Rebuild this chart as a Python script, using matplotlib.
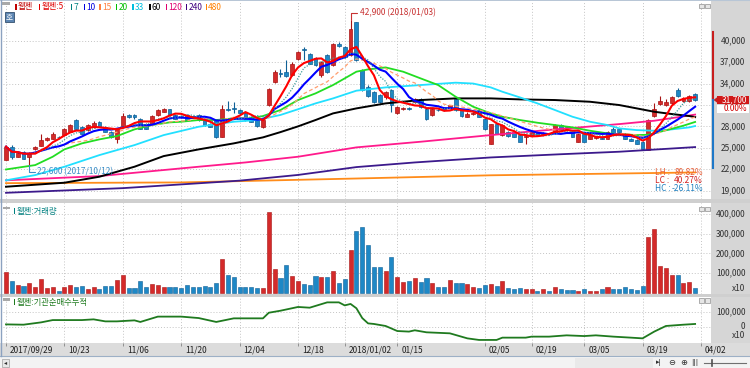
import numpy as np
import pandas as pd
import matplotlib
matplotlib.use("Agg")
import matplotlib.pyplot as plt
from matplotlib.transforms import blended_transform_factory as blend, offset_copy
from matplotlib.patches import Rectangle, Polygon, Circle

plt.rcParams['font.family'] = ['Noto Sans CJK KR', 'DejaVu Sans']

# ======================= DATA =======================
stock_name = '웹젠'
tick_idx = [0, 10, 20, 30, 40, 50, 58, 67, 82, 90, 99, 109, 119]
tick_labels = ['2017/09/29', '10/23', '11/06', '11/20', '12/04', '12/18',
               '2018/01/02', '01/15', '02/05', '02/19', '03/05', '03/19', '04/02']

opens = [23300, 25150, 23750, 24450, 23750, 24800, 25250, 26100, 26300, 26500,
         26800, 27250, 28900, 27950, 27500, 27850, 28650, 27950, 27250, 26300,
         27950, 29550, 29550, 29100, 28400, 28400, 29600, 30050, 30400, 29600,
         29400, 29600, 29400, 29600, 29100, 28400, 28900, 26550, 30500, 30500,
         30300, 29850, 29350, 28900, 27850, 30950, 34250, 35400, 35650, 35200,
         37400, 38900, 38200, 37550, 35200, 38000, 36600, 39600, 39150, 38000,
         42550, 35900, 33550, 32850, 32400, 32050, 33100, 29850, 30450, 30550,
         31450, 31900, 30500, 29600, 30350, 30500, 30750, 31800, 30300, 29350,
         29750, 30300, 29100, 25600, 28400, 26800, 27250, 27250, 26800, 26550,
         26800, 27250, 26950, 27000, 27100, 28200, 28000, 27400, 25850, 27000,
         26300, 26350, 26400, 26300, 27700, 27700, 27000, 26300, 26100, 25850,
         24750, 29450, 31100, 31050, 31300, 33150, 31600, 31500, 32600]
highs = [25350, 25400, 24400, 24550, 24400, 25300, 26950, 26500, 27250, 26650,
         27800, 28350, 29100, 28100, 28300, 28700, 28800, 28050, 27350, 27800,
         29900, 29800, 29700, 29200, 28500, 29550, 30450, 30600, 30500, 29700,
         29550, 29700, 29500, 29700, 29200, 28500, 29000, 31000, 31600, 31450,
         30450, 29950, 29450, 29000, 29000, 33400, 35900, 36100, 37300, 37000,
         38600, 39150, 38300, 37700, 37200, 38150, 39700, 39800, 39300, 42900,
         42650, 36100, 33800, 33000, 32550, 33000, 33300, 30900, 30750, 30700,
         32000, 32000, 30600, 30650, 30450, 30700, 31050, 31950, 30400, 29950,
         30000, 30450, 29200, 28400, 28500, 28300, 27350, 27350, 26900, 26800,
         27350, 27350, 27150, 27100, 28350, 28350, 28100, 27500, 27100, 27100,
         26900, 26550, 26500, 27350, 27850, 27800, 27100, 26400, 26200, 25950,
         29100, 31300, 32250, 31850, 32300, 33400, 32100, 32400, 32700]
lows = [23250, 23500, 23650, 23400, 22600, 24700, 25200, 26000, 26200, 26300,
        26700, 27200, 27600, 26900, 27400, 27800, 27850, 27150, 26400, 25700,
        27900, 29200, 29100, 27600, 27600, 28300, 29500, 29950, 29500, 29000,
        29150, 28800, 29150, 28800, 28100, 27850, 26400, 26450, 30100, 29850,
        29700, 28800, 28550, 27950, 27750, 30800, 34100, 34950, 34950, 35100,
        37300, 37300, 36700, 36450, 34950, 35500, 36450, 39100, 37600, 37900,
        37100, 32950, 32100, 31300, 31300, 31900, 30050, 29700, 30300, 30300,
        31300, 30600, 28950, 29450, 30100, 30200, 30600, 30200, 29350, 29250,
        29600, 29250, 27550, 25500, 26900, 26700, 26550, 26450, 25750, 25600,
        26700, 26700, 26850, 26800, 27000, 27400, 27800, 26450, 25750, 25750,
        26200, 26250, 26200, 26200, 27000, 27150, 26200, 25900, 25500, 24800,
        24650, 29300, 30950, 30850, 31200, 32100, 31400, 31400, 31600]
closes = [25150, 23750, 24300, 23500, 24200, 25150, 26100, 26400, 27000, 26450,
          27700, 28200, 27700, 27000, 28200, 28500, 27950, 27250, 26550, 27700,
          29450, 29350, 29250, 27700, 27700, 29450, 30300, 30500, 29600, 29100,
          29300, 28900, 29300, 28900, 28200, 27950, 26450, 30500, 30300, 30450,
          29850, 28900, 28650, 28050, 28900, 33200, 35650, 35300, 35050, 36800,
          38450, 38700, 36800, 36600, 37050, 35650, 39600, 39250, 37750, 41700,
          37300, 33100, 32250, 31450, 31450, 32850, 31000, 30750, 30550, 30450,
          31900, 30750, 29100, 30500, 30250, 30300, 30950, 30300, 29450, 29800,
          29850, 29350, 27700, 28300, 27000, 28200, 26650, 26550, 25850, 26700,
          27250, 26800, 27050, 26900, 28200, 27500, 27900, 26550, 27000, 25850,
          26800, 26450, 26300, 27250, 27100, 27250, 26300, 26000, 25600, 24900,
          28900, 30500, 31500, 31400, 32150, 32250, 31950, 32300, 31700]
volumes = [103000, 60000, 38000, 35000, 47000, 30000, 67000, 25000, 30000, 8000,
           26000, 37000, 26000, 33000, 16000, 26000, 16000, 33000, 33000, 62000,
           88000, 23000, 23000, 57000, 30000, 44000, 40000, 30000, 26000, 26000,
           21000, 37000, 26000, 26000, 33000, 26000, 47000, 172000, 91000, 78000,
           26000, 26000, 26000, 21000, 21000, 413000, 119000, 76000, 139000, 85000,
           59000, 44000, 37000, 85000, 81000, 81000, 108000, 47000, 69000, 218000,
           312000, 334000, 244000, 132000, 128000, 112000, 184000, 81000, 56000, 61000,
           74000, 56000, 74000, 47000, 26000, 30000, 64000, 47000, 47000, 42000,
           26000, 21000, 37000, 44000, 33000, 57000, 23000, 20000, 23000, 16000,
           16000, 10000, 16000, 8000, 26000, 20000, 13000, 13000, 10000, 16000,
           6000, 8000, 20000, 26000, 20000, 20000, 30000, 20000, 13000, 35000,
           283000, 327000, 136000, 124000, 90000, 88000, 50000, 55000, 21000]

# long moving averages (index, price)
ma20_idx = [0, 5, 8, 10, 13, 16, 19, 22, 25, 28, 30, 33, 36, 39, 42, 44, 47, 50, 53, 56,
            59, 60, 62, 65, 68, 71, 74, 77, 80, 83, 85, 88, 91, 94, 97, 100, 103, 105,
            108, 110, 112, 114, 116, 118]
ma20_val = [21970, 22580, 23750, 24780, 25620, 26180, 26640, 27580, 28190, 28560, 28650,
            28890, 28890, 29120, 29120, 29450, 30290, 31690, 32620, 33790, 35190, 35660,
            35980, 36260, 35660, 34720, 33790, 32150, 30750, 29820, 29350, 28890, 28510,
            28190, 27860, 27390, 27020, 26920, 26780, 26830, 27240, 27660, 28100, 28620]
ma33_idx = [0, 5, 10, 16, 22, 27, 33, 39, 43, 47, 50, 53, 56, 60, 65, 71, 77, 80, 83, 85,
            88, 91, 94, 97, 100, 103, 105, 108, 111, 114, 117, 118]
ma33_val = [20450, 21180, 22350, 23980, 25380, 26780, 27950, 28650, 28890, 29600, 30400,
            31220, 31920, 33000, 33460, 33790, 34120, 34000, 33460, 32850, 32060, 31220,
            30290, 29350, 28650, 28190, 27720, 27480, 27390, 27580, 27860, 28050]
ma60_idx = [0, 10, 16, 22, 27, 33, 39, 44, 47, 50, 53, 56, 60, 65, 71, 77, 83, 88, 94,
            100, 105, 108, 111, 114, 117, 118]
ma60_val = [19550, 20110, 20950, 22350, 23840, 24780, 25620, 26460, 27200, 28000, 28890,
            29820, 30520, 31220, 31690, 31920, 31920, 31780, 31690, 31450, 30990, 30520,
            30050, 29730, 29450, 29300]
ma120_idx = [0, 16, 33, 41, 50, 60, 71, 83, 94, 105, 111, 118]
ma120_val = [20450, 21040, 22350, 22950, 23750, 25060, 25850, 26780, 27580, 28320, 28790, 29650]
ma240_idx = [0, 20, 40, 50, 60, 70, 83, 95, 105, 118]
ma240_val = [18700, 19350, 20400, 21200, 22300, 22950, 23650, 24100, 24450, 25100]
ma480_idx = [0, 30, 60, 83, 105, 118]
ma480_val = [20050, 20150, 20700, 21150, 21400, 21550]

# institution net-buying cumulative
inst_idx = [0, 3, 6, 8, 13, 15, 17, 19, 22, 23, 26, 30, 33, 36, 39, 44, 45, 47, 50, 52,
            55, 57, 58, 59, 60, 61, 62, 63, 65, 67, 69, 70, 72, 76, 79, 81, 84, 85, 89, 90,
            93, 96, 99, 101, 104, 107, 109, 111, 113, 116, 118]
inst_val = [16000, 14000, 30000, 46000, 46000, 51000, 37000, 37000, 44000, 33000,
            70000, 70000, 60000, 33000, 58000, 58000, 97000, 111000, 137000, 132000,
            169000, 169000, 148000, 158000, 128000, 60000, 23000, 19000, 5000, -30000,
            -34000, -25000, -39000, -46000, -81000, -92000, -92000, -76000, -76000, -69000,
            -69000, -60000, -65000, -60000, -69000, -76000, -81000, -34000, 5000, 14000,
            19000]

high_date = '2018/01/03'
low_date = '2017/10/12'
price_ticks = [40000, 37000, 34000, 28000, 25000, 22000, 19000]
price_grid = [19000, 22000, 25000, 28000, 31000, 34000, 37000, 40000]
volume_ticks = [400000, 300000, 200000, 100000]
inst_ticks = [100000, 0]

# ======================= STYLE / LAYOUT =======================
W, H = 750, 368
UP_FACE, UP_EDGE = '#D42A2A', '#A81414'
DN_FACE, DN_EDGE = '#1E88C6', '#0F5F95'
GRID = '#C4C4C4'
TXT = '#303030'
FS = 6

fig = plt.figure(figsize=(7.5, 3.68), dpi=100, facecolor='white')


def px_axes(x0, y0, x1, y1, z):
    a = fig.add_axes([x0 / W, 1 - y1 / H, (x1 - x0) / W, (y1 - y0) / H])
    a.set_zorder(z)
    return a


bg = px_axes(0, 0, W, H, 0)
bg.set_xlim(0, W); bg.set_ylim(H, 0); bg.axis('off')
ax = px_axes(3, 1, 711, 198.5, 2)
axv = px_axes(3, 202.5, 711, 293.5, 2)
axi = px_axes(3, 296.5, 711, 343, 2)
fg = px_axes(0, 0, W, H, 5)
fg.set_xlim(0, W); fg.set_ylim(H, 0); fg.axis('off')

n = len(closes)
x = np.arange(n)
o = np.array(opens, float); c = np.array(closes, float)
hi_arr = np.array(highs, float); lo_arr = np.array(lows, float)
up = c >= o

XL = ((3 - 6) / 5.84, (711 - 6) / 5.84)
for a, yl in ((ax, (17900, 45560)), (axv, (-5100, 460000)), (axi, (-113200, 209700))):
    a.set_xlim(*XL)
    a.set_ylim(*yl)
    a.set_facecolor('white')
    for s in a.spines.values():
        s.set_visible(False)
    a.set_xticks([]); a.set_yticks([])
    a.vlines(tick_idx, yl[0], yl[1], colors=GRID, linestyles=(0, (1, 2)), lw=0.7, zorder=0)

ax.hlines(price_grid, XL[0], XL[1], colors=GRID, linestyles=(0, (1, 2)), lw=0.7, zorder=0)
axv.hlines(volume_ticks, XL[0], XL[1], colors=GRID, linestyles=(0, (1, 2)), lw=0.7, zorder=0)
axi.hlines(inst_ticks, XL[0], XL[1], colors=GRID, linestyles=(0, (1, 2)), lw=0.7, zorder=0)

# background decorations
bg.add_patch(Rectangle((711, 0), 39, 343, fc='#D6D6D6', ec='none'))
bg.add_patch(Rectangle((0, 198.5), W, 4, fc='#CFCFCF', ec='none'))
bg.add_patch(Rectangle((0, 293.5), W, 3, fc='#CFCFCF', ec='none'))
bg.add_patch(Rectangle((0, 343), W, 13, fc='#DCDCDC', ec='none'))
bg.add_patch(Rectangle((0, 356), W, 12, fc='#F3F3F3', ec='none'))
bg.plot([0, W], [356.3, 356.3], color='#9DB0C6', lw=0.8)
bg.plot([0, W], [0.4, 0.4], color='#B8C6D6', lw=0.8)
bg.plot([0.5, 0.5], [0, 356], color='#8CA2C0', lw=1.0)

# candles
face = np.where(up, UP_FACE, DN_FACE)
edge = np.where(up, UP_EDGE, DN_EDGE)
ax.vlines(x, lo_arr, hi_arr, colors=edge, lw=0.8, zorder=3)
body_b = np.minimum(o, c)
body_h = np.maximum(np.abs(c - o), 110)
ax.bar(x, body_h, bottom=body_b, width=0.66, color=face, edgecolor=edge, lw=0.5, zorder=4)

# moving averages
cs = pd.Series(c)
ma5 = cs.rolling(5, min_periods=1).mean()
ma7 = cs.rolling(7, min_periods=1).mean()
ma10 = cs.rolling(10, min_periods=1).mean()
ma15 = cs.rolling(15, min_periods=1).mean()
ax.plot(ma480_idx, ma480_val, color='#FF8C1A', lw=1.3, zorder=5)
ax.plot(ma240_idx, ma240_val, color='#3C1A8C', lw=1.3, zorder=5)
ax.plot(ma120_idx, ma120_val, color='#FF1A8C', lw=1.3, zorder=5)
ax.plot(ma60_idx, ma60_val, color='#000000', lw=1.4, zorder=5)
ax.plot(ma33_idx, ma33_val, color='#22E0FF', lw=1.3, zorder=5)
ax.plot(ma20_idx, ma20_val, color='#22DD22', lw=1.3, zorder=5)
ax.plot(x, ma15, color='#FF9E6E', lw=0.9, ls=(0, (3, 2)), zorder=5)
ax.plot(x, ma10, color='#0000FF', lw=1.5, zorder=6)
ax.plot(x, ma7, color='#3E9C9C', lw=0.9, ls=(0, (1, 1.2)), zorder=6)
ax.plot(x, ma5, color='#FF0000', lw=1.5, zorder=7)

# high / low markers
hi_i = int(np.argmax(hi_arr)); hi_v = int(hi_arr[hi_i])
lo_i = int(np.argmin(lo_arr)); lo_v = int(lo_arr[lo_i])
ax.annotate(f'{hi_v:,} ({high_date})', xy=(hi_i, hi_v), xytext=(9, 7),
            textcoords='offset pixels', ha='left', va='center', fontsize=FS, color='#C83232',
            arrowprops=dict(arrowstyle='-', color='#C83232', lw=0.8, shrinkA=0, shrinkB=0,
                            connectionstyle='angle,angleA=0,angleB=90,rad=0', relpos=(0, 0.5)),
            zorder=8)
ax.annotate(f'{lo_v:,} ({low_date})', xy=(lo_i, lo_v), xytext=(8, -7),
            textcoords='offset pixels', ha='left', va='center', fontsize=FS, color='#3A8EC8',
            arrowprops=dict(arrowstyle='-', color='#3A8EC8', lw=0.8, shrinkA=0, shrinkB=0,
                            connectionstyle='angle,angleA=0,angleB=90,rad=0', relpos=(0, 0.5)),
            zorder=8)

last = c[-1]
lh = (hi_v - lo_v) / lo_v * 100
lc = (last - lo_v) / lo_v * 100
hc = (last - hi_v) / hi_v * 100
for yy, lab, val, col in ((172.5, 'LH', lh, '#E8603A'), (180.5, 'LC', lc, '#D02020'),
                          (188.5, 'HC', hc, '#2080C0')):
    fg.text(655, yy, f'{lab} :', ha='left', va='center', fontsize=FS, color=col)
    fg.text(703, yy, f'{val:.2f}%', ha='right', va='center', fontsize=FS, color=col)

# volume
axv.bar(x, volumes, width=0.7, color=face, edgecolor=edge, lw=0.4, zorder=3)

# institution cumulative
axi.plot(inst_idx, inst_val, color='#1F7A1F', lw=1.3, zorder=3)


def ypx(a, v):
    return H - a.transData.transform((0, v))[1]


# right axis labels
for v in price_ticks:
    fg.text(745.5, ypx(ax, v), f'{v:,}', ha='right', va='center', fontsize=FS, color=TXT)
for v in volume_ticks:
    fg.text(745.5, ypx(axv, v), f'{v:,}', ha='right', va='center', fontsize=FS, color=TXT)
fg.text(745.5, 288.5, 'x10', ha='right', va='center', fontsize=FS, color=TXT)
for v in inst_ticks:
    fg.text(745.5, ypx(axi, v), f'{v:,}', ha='right', va='center', fontsize=FS, color=TXT)
fg.text(745.5, 336, 'x10', ha='right', va='center', fontsize=FS, color=TXT)

# price-limit bar and current price box
y_last = ypx(ax, last)
y_up = ypx(ax, last * 1.3)
y_dn = ypx(ax, last * 0.7)
fg.plot([712.6, 712.6], [y_up, y_last], color='#C81E1E', lw=1.5)
fg.plot([712.6, 712.6], [y_last, y_dn], color='#1E78C8', lw=1.5)
fg.add_patch(Polygon([[713.5, y_last], [717.5, y_last - 3], [717.5, y_last + 3]], closed=True,
                     fc='#C81E1E', ec='none'))
fg.add_patch(Rectangle((717, y_last - 4.3), 32, 8.6, fc='#D01818', ec='none'))
fg.text(747.5, y_last, f'{int(last):,}', ha='right', va='center', fontsize=FS, color='white')
fg.add_patch(Rectangle((717, y_last + 4.6), 32, 8, fc='white', ec='none'))
fg.text(747.5, y_last + 8.7, '0.00%', ha='right', va='center', fontsize=FS, color='#D00000')

# x-axis labels
tx = offset_copy(blend(axi.transData, fg.transData), fig=fig, x=4, y=0, units='dots')
for i, lab in zip(tick_idx, tick_labels):
    fg.text(i, 350, lab, transform=tx, ha='left', va='center', fontsize=FS, color='#202020')
fg.vlines(tick_idx, 343, 346, colors='#909090', lw=0.7, transform=blend(axi.transData, fg.transData))

# legend
legend = [('웹젠', '#C00000', 15), ('웹젠:5', '#E00000', 38.5), ('7', '#008080', 70.5),
          ('10', '#0000E0', 83.5), ('15', '#FF7F3F', 99), ('20', '#00C000', 115.5),
          ('33', '#00C0E0', 132), ('60', '#000000', 149), ('120', '#E0006F', 165.5),
          ('240', '#3F007F', 185.5), ('480', '#FF8000', 205.5)]
for lab, col, xp in legend:
    fg.add_patch(Rectangle((xp, 3.8), 1.8, 6, fc=col, ec='none'))
    fg.text(xp + 2.8, 7, lab, ha='left', va='center', fontsize=FS, color=col)
fg.add_patch(Rectangle((2, 2), 8, 3, fc='#A8A8A8', ec='none'))
fg.add_patch(Rectangle((4.5, 12), 9, 9.5, fc='#5B84B1', ec='#34506E', lw=0.6))
fg.text(9, 16.8, '호', ha='center', va='center', fontsize=5.5, color='white')

# panel titles
fg.add_patch(Rectangle((3, 206.5), 7, 2.5, fc='#A8A8A8', ec='none'))
fg.add_patch(Rectangle((13.5, 208), 1.8, 6, fc='#008080', ec='none'))
fg.text(16.5, 211.5, f'{stock_name}:거래량', ha='left', va='center', fontsize=FS, color='#008080')
fg.add_patch(Rectangle((3, 298), 7, 2.5, fc='#A8A8A8', ec='none'))
fg.add_patch(Rectangle((13.5, 299.3), 1.8, 6, fc='#1F7A1F', ec='none'))
fg.text(16.5, 302.5, f'{stock_name}:기관순매수누적', ha='left', va='center', fontsize=FS, color='#1F7A1F')

# small panel icons
for yy in (3.5, 206.5, 298):
    fg.add_patch(Rectangle((699, yy), 4.5, 4.5, fc='#E6E6E6', ec='#909090', lw=0.5))
    fg.add_patch(Rectangle((705, yy), 4.5, 4.5, fc='#E6E6E6', ec='#909090', lw=0.5))

# scroll bar
fg.add_patch(Rectangle((2, 359), 7, 7.5, fc='#E8E8E8', ec='#A0A0A0', lw=0.5))
fg.text(5.5, 362.7, '◂', ha='center', va='center', fontsize=4.5, color='#303030',
        family=['DejaVu Sans'])
fg.add_patch(Rectangle((575, 357.5), 78, 10, fc='#E9E9E9', ec='none'))
fg.text(659, 362.7, '▸|', ha='center', va='center', fontsize=5, color='#303030', family=['DejaVu Sans'])
fg.text(672, 362.7, '⊖', ha='center', va='center', fontsize=6, color='#303030', family=['DejaVu Sans'])
fg.text(684, 362.7, '⊕', ha='center', va='center', fontsize=6, color='#303030', family=['DejaVu Sans'])
fg.text(695, 362.7, '|||', ha='center', va='center', fontsize=5, color='#303030', family=['DejaVu Sans'])
fg.plot([704, 746], [363, 363], color='#707070', lw=0.8)
fg.plot([712, 712], [360, 366], color='#505050', lw=1.2)

fig.savefig('out.png', dpi=100, facecolor='white')
